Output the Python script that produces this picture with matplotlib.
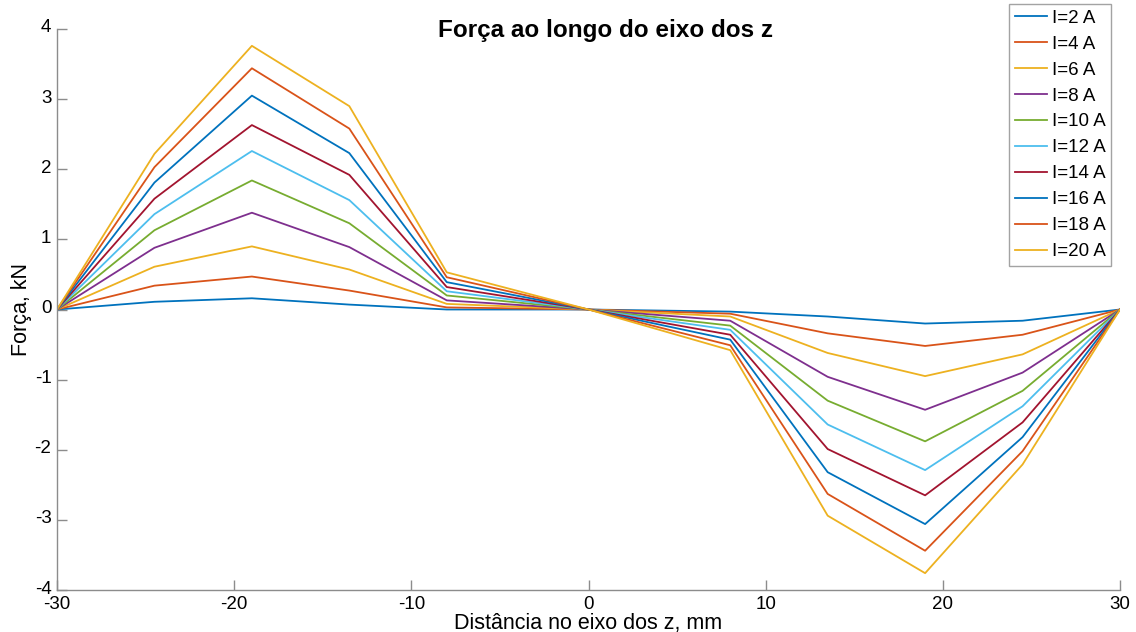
import matplotlib
matplotlib.use("Agg")
import matplotlib.pyplot as plt
import matplotlib.transforms as mtransforms

plt.rcParams['font.family'] = ['Liberation Sans', 'DejaVu Sans']
plt.rcParams['axes.unicode_minus'] = False

z_mm = [-30, -24.5, -19, -13.5, -8, 0, 8, 13.5, 19, 24.5, 30]
labels = ["I=2 A", "I=4 A", "I=6 A", "I=8 A", "I=10 A",
          "I=12 A", "I=14 A", "I=16 A", "I=18 A", "I=20 A"]
F_2A = [0, 0.11, 0.16, 0.07, 0.00, 0, -0.03, -0.10, -0.20, -0.16, 0]
F_4A = [0, 0.34, 0.47, 0.27, 0.03, 0, -0.06, -0.34, -0.52, -0.36, 0]
F_6A = [0, 0.61, 0.90, 0.57, 0.08, 0, -0.10, -0.62, -0.95, -0.64, 0]
F_8A = [0, 0.88, 1.38, 0.89, 0.13, 0, -0.16, -0.96, -1.43, -0.90, 0]
F_10A = [0, 1.13, 1.84, 1.23, 0.20, 0, -0.23, -1.30, -1.88, -1.16, 0]
F_12A = [0, 1.36, 2.26, 1.56, 0.26, 0, -0.29, -1.64, -2.29, -1.38, 0]
F_14A = [0, 1.58, 2.63, 1.92, 0.32, 0, -0.36, -1.99, -2.65, -1.61, 0]
F_16A = [0, 1.81, 3.05, 2.23, 0.39, 0, -0.43, -2.32, -3.06, -1.82, 0]
F_18A = [0, 2.03, 3.44, 2.58, 0.46, 0, -0.51, -2.63, -3.44, -2.02, 0]
F_20A = [0, 2.22, 3.76, 2.90, 0.53, 0, -0.58, -2.94, -3.76, -2.21, 0]
series = [F_2A, F_4A, F_6A, F_8A, F_10A, F_12A, F_14A, F_16A, F_18A, F_20A]

colors = ['#0072BD', '#D95319', '#EDB120', '#7E2F8E', '#77AC30',
          '#4DBEEE', '#A2142F', '#0072BD', '#D95319', '#EDB120']

fig = plt.figure(figsize=(11.36, 6.32), dpi=100)
ax = fig.add_axes([57/1136, 1-590/632, (1120-57)/1136, (590-29)/632])

lines = []
for y, c, lab in zip(series, colors, labels):
    l, = ax.plot(z_mm, y, color=c, lw=1.3, label=lab)
    lines.append(l)

ax.set_xlim(-30, 30)
ax.set_ylim(-4, 4)
ax.set_xticks(range(-30, 31, 10))
ax.set_yticks(range(-4, 5))
for s in ['top', 'right']:
    ax.spines[s].set_visible(False)
for s in ['left', 'bottom']:
    ax.spines[s].set_color('#8c8c8c')
    ax.spines[s].set_linewidth(1.0)
ax.tick_params(direction='in', length=7, width=1.0, color='#8c8c8c',
               labelsize=13.5, labelcolor='black')
ax.tick_params(axis='x', pad=4)
ax.tick_params(axis='y', pad=4)

# nudge y tick labels up slightly (as in the reference)
offset = mtransforms.ScaledTranslation(0, 3/100, fig.dpi_scale_trans)
for lbl in ax.get_yticklabels():
    lbl.set_transform(lbl.get_transform() + offset)

ax.set_xlabel("Distância no eixo dos z, mm", fontsize=15.5, labelpad=0)
ax.set_ylabel("Força, kN", fontsize=15.5, labelpad=2)
fig.text(605/1136, 1-31/632, "Força ao longo do eixo dos z",
         fontsize=17.5, fontweight='bold', ha='center', va='center')

leg = fig.legend(handles=lines, loc='upper right',
                 bbox_to_anchor=(1111/1136, 1-4/632),
                 fontsize=13.5, frameon=True, fancybox=False,
                 handlelength=1.7, handletextpad=0.25, labelspacing=0.47,
                 borderpad=0.3, borderaxespad=0)
leg.get_frame().set_edgecolor('#8c8c8c')
leg.get_frame().set_linewidth(1.0)

fig.savefig("out.png", dpi=100)
